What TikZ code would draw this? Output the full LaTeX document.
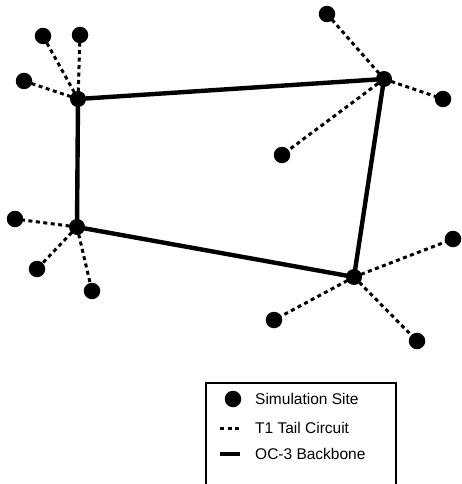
\documentclass[tikz,border=0pt]{standalone}
\usepackage{fontspec}
\setmainfont{Liberation Sans}
\begin{document}
\begin{tikzpicture}[x=1pt,y=-1pt,
  site/.style={circle,fill=black,inner sep=0pt,minimum size=16.5pt},
  hub/.style={circle,fill=black,inner sep=0pt,minimum size=16pt},
  backbone/.style={line width=4.4pt},
  tail/.style={line width=3pt,dash pattern=on 4pt off 3.5pt},
  legendtext/.style={anchor=west,font=\fontsize{15.5}{18}\selectfont,inner sep=0pt}]
\useasboundingbox (0,0) rectangle (462,484);

% backbone hubs
\node[hub] (A) at (78,99) {};
\node[hub] (B) at (384,79) {};
\node[hub] (C) at (77,227) {};
\node[hub] (D) at (354,277) {};

% tail sites
\node[site] (a1) at (43,36) {};
\node[site] (a2) at (80,35) {};
\node[site] (a3) at (24,81) {};
\node[site] (b1) at (327,14) {};
\node[site] (b2) at (443,99) {};
\node[site] (b3) at (282,155) {};
\node[site] (c1) at (15,219) {};
\node[site] (c2) at (37,269) {};
\node[site] (c3) at (92,291) {};
\node[site] (d1) at (453,239) {};
\node[site] (d2) at (274,320) {};
\node[site] (d3) at (417,341) {};

% T1 tail circuits
\foreach \h/\s in {A/a1,A/a2,A/a3,B/b1,B/b2,B/b3,C/c1,C/c2,C/c3,D/d1,D/d2,D/d3}
  \draw[tail] (\h.center) -- (\s.center);

% OC-3 backbone ring
\draw[backbone,line join=round] (A.center) -- (B.center) -- (D.center) -- (C.center) -- cycle;

% legend
\coordinate (lbl) at (206,490);
\coordinate (lbr) at (396,490);
\draw[line width=1.8pt] (lbl) |- (301,383) -| (lbr);
\node[site] (ldot) at (233,399) {};
\node[legendtext] (l1) at (255,399) {Simulation Site};
\coordinate (t0) at (220,428);
\coordinate (t1) at (240,428);
\draw[tail] (t0) -- (t1);
\node[legendtext] (l2) at (255,428) {T1 Tail Circuit};
\coordinate (k0) at (220,454);
\coordinate (k1) at (240,454);
\draw[backbone] (k0) -- (k1);
\node[legendtext] (l3) at (255,454) {OC-3 Backbone};
\end{tikzpicture}
\end{document}
